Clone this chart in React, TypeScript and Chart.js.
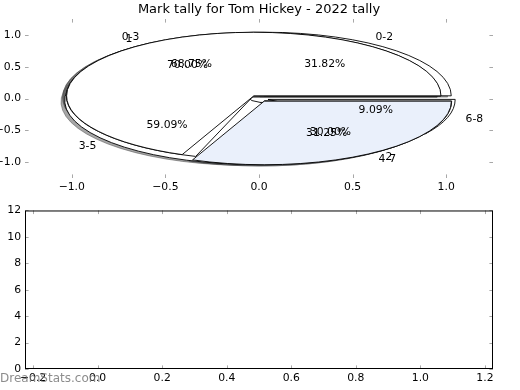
import React, { useEffect, useRef } from 'react';
import { Chart, registerables } from 'chart.js';

Chart.register(...registerables);

const FONT = '"DejaVu Sans", sans-serif';

const titleText = 'Mark tally for Tom Hickey - 2022 tally';

// Pie 1 (drawn first)
const pieALabels = ['0-2', '3-5', '6-8'];
const pieACounts = [7, 13, 2];
const pieAColors = ['#ffffff', '#ffffff', '#ffffff'];

// Pie 2
const pieBLabels = ['1', '2'];
const pieBCounts = [7, 3];
const pieBColors = ['#ffffff', '#ffffff'];

// Pie 3 (drawn last, on top)
const pieCLabels = ['0-3', '4-7'];
const pieCCounts = [11, 5];
const pieCColors = ['#ffffff', '#eaf0fb'];

const pieExplode = 0.05;
const pieStartAngle = 0;

const topTicks = [-1, -0.5, 0, 0.5, 1];
const bottomXTicks = [-0.2, 0, 0.2, 0.4, 0.6, 0.8, 1.0, 1.2];
const bottomYTicks = [0, 2, 4, 6, 8, 10, 12];
const watermark = 'DreamStats.com';

const fmt1 = (v: number) => (v < 0 ? '\u2212' : '') + Math.abs(v).toFixed(1);
const fmt0 = (v: number) => (v < 0 ? '\u2212' : '') + Math.abs(v).toFixed(0);

type Wedge = { t1: number; t2: number; mid: number; frac: number; label: string; color: string; ox: number; oy: number };

function buildWedges(labels: string[], counts: number[], colors: string[]): Wedge[] {
  const total = counts.reduce((a, b) => a + b, 0);
  let t = (pieStartAngle * Math.PI) / 180;
  return counts.map((c, i) => {
    const frac = c / total;
    const t1 = t;
    const t2 = t + frac * 2 * Math.PI;
    t = t2;
    const mid = (t1 + t2) / 2;
    return {
      t1, t2, mid, frac,
      label: labels[i],
      color: colors[i],
      ox: pieExplode * Math.cos(mid),
      oy: pieExplode * Math.sin(mid),
    };
  });
}

function darken(hex: string) {
  const h = hex.replace('#', '');
  const r = Math.round(parseInt(h.slice(0, 2), 16) * 0.3);
  const g = Math.round(parseInt(h.slice(2, 4), 16) * 0.3);
  const b = Math.round(parseInt(h.slice(4, 6), 16) * 0.3);
  return `rgba(${r},${g},${b},0.5)`;
}

const piePlugin = {
  id: 'ellipsePies',
  afterDatasetsDraw(chart: any) {
    const { ctx } = chart;
    const xs = chart.scales.x;
    const ys = chart.scales.y;
    const px = (v: number) => xs.getPixelForValue(v);
    const py = (v: number) => ys.getPixelForValue(v);
    const rx = px(1) - px(0);
    const ry = py(0) - py(1);
    const pies = [
      buildWedges(pieALabels, pieACounts, pieAColors),
      buildWedges(pieBLabels, pieBCounts, pieBColors),
      buildWedges(pieCLabels, pieCCounts, pieCColors),
    ];
    const path = (w: Wedge, dx: number, dy: number) => {
      const cx = px(w.ox + dx);
      const cy = py(w.oy + dy);
      ctx.beginPath();
      ctx.moveTo(cx, cy);
      ctx.ellipse(cx, cy, rx, ry, 0, -w.t1, -w.t2, true);
      ctx.closePath();
    };
    ctx.save();
    // shadows (below all wedges)
    pies.forEach((p) =>
      p.forEach((w) => {
        path(w, -0.02, -0.02);
        const c = darken(w.color);
        ctx.fillStyle = c;
        ctx.fill();
        ctx.strokeStyle = c;
        ctx.lineWidth = 1;
        ctx.stroke();
      })
    );
    // wedges
    pies.forEach((p) =>
      p.forEach((w) => {
        path(w, 0, 0);
        ctx.fillStyle = w.color;
        ctx.fill();
        ctx.strokeStyle = '#000';
        ctx.lineWidth = 0.9;
        ctx.stroke();
      })
    );
    // texts
    ctx.fillStyle = '#000';
    ctx.font = `10.8px ${FONT}`;
    ctx.textBaseline = 'middle';
    pies.forEach((p) =>
      p.forEach((w) => {
        const lx = w.ox + 1.1 * Math.cos(w.mid);
        const ly = w.oy + 1.1 * Math.sin(w.mid);
        ctx.textAlign = lx > 0 ? 'left' : 'right';
        ctx.fillText(w.label, px(lx), py(ly));
        const tx = w.ox + 0.6 * Math.cos(w.mid);
        const ty = w.oy + 0.6 * Math.sin(w.mid);
        ctx.textAlign = 'center';
        ctx.fillText((w.frac * 100).toFixed(2) + '%', px(tx), py(ty));
      })
    );
    ctx.restore();
  },
};

function makeTickPlugin(xTicks: number[], yTicks: number[], frame: boolean, mark?: string) {
  return {
    id: 'mplTicks',
    afterDraw(chart: any) {
      const { ctx, chartArea } = chart;
      const xs = chart.scales.x;
      const ys = chart.scales.y;
      const L = 3.6;
      ctx.save();
      ctx.strokeStyle = '#a8a8a8';
      ctx.lineWidth = 1;
      ctx.beginPath();
      xTicks.forEach((v) => {
        const x = Math.round(xs.getPixelForValue(v)) + 0.5;
        ctx.moveTo(x, chartArea.top);
        ctx.lineTo(x, chartArea.top + L);
        ctx.moveTo(x, chartArea.bottom);
        ctx.lineTo(x, chartArea.bottom - L);
      });
      yTicks.forEach((v) => {
        const y = Math.round(ys.getPixelForValue(v)) + 0.5;
        ctx.moveTo(chartArea.left, y);
        ctx.lineTo(chartArea.left + L, y);
        ctx.moveTo(chartArea.right, y);
        ctx.lineTo(chartArea.right - L, y);
      });
      ctx.stroke();
      if (frame) {
        ctx.strokeStyle = '#000';
        ctx.lineWidth = 1;
        ctx.strokeRect(
          chartArea.left + 0.5,
          chartArea.top + 0.5,
          chartArea.right - chartArea.left - 1,
          chartArea.bottom - chartArea.top - 1
        );
      }
      if (mark) {
        ctx.fillStyle = 'rgba(120,120,120,0.85)';
        ctx.font = `12px ${FONT}`;
        ctx.textAlign = 'left';
        ctx.textBaseline = 'middle';
        ctx.fillText(mark, 0, chartArea.bottom + 10);
      }
      ctx.restore();
    },
  };
}

const tickFont = { family: FONT, size: 10.8 };
const noGrid = { display: false, drawTicks: false, tickLength: 0 };

export default function App() {
  const topRef = useRef<HTMLCanvasElement>(null);
  const botRef = useRef<HTMLCanvasElement>(null);

  useEffect(() => {
    Chart.defaults.font.family = FONT;
    const top = new Chart(topRef.current as HTMLCanvasElement, {
      type: 'scatter',
      data: { datasets: [] },
      options: {
        responsive: false,
        animation: false,
        layout: { padding: { left: 0, right: 27, top: 0, bottom: 0 } },
        plugins: {
          legend: { display: false },
          tooltip: { enabled: false },
          title: {
            display: true,
            text: titleText,
            fullSize: false,
            color: '#000',
            font: { family: FONT, size: 13, weight: 'normal' },
            padding: { top: 2, bottom: 1.4 },
          },
        },
        scales: {
          x: {
            type: 'linear',
            min: -1.25,
            max: 1.25,
            grid: noGrid,
            border: { display: false },
            afterBuildTicks: (s: any) => {
              s.ticks = topTicks.map((v) => ({ value: v }));
            },
            afterFit: (s: any) => {
              s.height = 22;
            },
            ticks: { callback: (v: any) => fmt1(Number(v)), font: tickFont, color: '#000', padding: 3, autoSkip: false, maxRotation: 0 },
          },
          y: {
            type: 'linear',
            min: -1.25,
            max: 1.25,
            grid: noGrid,
            border: { display: false },
            afterBuildTicks: (s: any) => {
              s.ticks = topTicks.map((v) => ({ value: v }));
            },
            afterFit: (s: any) => {
              s.width = 25;
            },
            ticks: { callback: (v: any) => fmt1(Number(v)), font: tickFont, color: '#000', padding: 4, autoSkip: false },
          },
        },
      } as any,
      plugins: [piePlugin, makeTickPlugin(topTicks, topTicks, false)],
    });

    const bot = new Chart(botRef.current as HTMLCanvasElement, {
      type: 'scatter',
      data: { datasets: [] },
      options: {
        responsive: false,
        animation: false,
        layout: { padding: { left: 0, right: 27, top: 10, bottom: 0 } },
        plugins: { legend: { display: false }, tooltip: { enabled: false } },
        scales: {
          x: {
            type: 'linear',
            min: -0.225,
            max: 1.225,
            grid: noGrid,
            border: { display: false },
            afterBuildTicks: (s: any) => {
              s.ticks = bottomXTicks.map((v) => ({ value: v }));
            },
            afterFit: (s: any) => {
              s.height = 21;
            },
            ticks: { callback: (v: any) => fmt1(Number(v)), font: tickFont, color: '#000', padding: 3, autoSkip: false, maxRotation: 0 },
          },
          y: {
            type: 'linear',
            min: 0,
            max: 12,
            grid: noGrid,
            border: { display: false },
            afterBuildTicks: (s: any) => {
              s.ticks = bottomYTicks.map((v) => ({ value: v }));
            },
            afterFit: (s: any) => {
              s.width = 25;
            },
            ticks: { callback: (v: any) => fmt0(Number(v)), font: tickFont, color: '#000', padding: 4, autoSkip: false },
          },
        },
      } as any,
      plugins: [makeTickPlugin(bottomXTicks, bottomYTicks, true, watermark)],
    });

    return () => {
      top.destroy();
      bot.destroy();
    };
  }, []);

  return (
    <div style={{ position: 'absolute', left: 0, top: 0, width: 520, height: 390, background: '#fff' }}>
      <canvas ref={topRef} width={520} height={200} style={{ position: 'absolute', left: 0, top: 0, display: 'block' }} />
      <canvas ref={botRef} width={520} height={190} style={{ position: 'absolute', left: 0, top: 200, display: 'block' }} />
    </div>
  );
}
